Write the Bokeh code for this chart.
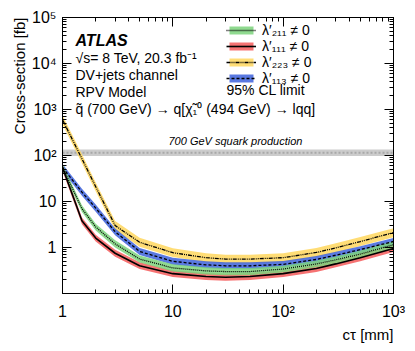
import math
from bokeh.plotting import figure
from bokeh.models import (LogAxis, FixedTicker, Label, Legend, LegendItem,
                          ColumnDataSource, Range1d, Title)
from bokeh.embed import file_html
from bokeh.resources import INLINE

# ---------------- data ----------------
ctau = [1, 1.5, 2, 3, 5, 10, 20, 30, 50, 100, 200, 300, 500, 1000]

# lambda'_211 (green, dotted)
l211 = [55, 7.0, 2.8, 1.2, 0.56, 0.36, 0.31, 0.3, 0.3, 0.34, 0.44, 0.54, 0.72, 1.15]
l211_lo = [46, 5.9, 2.35, 1.0, 0.47, 0.30, 0.26, 0.25, 0.25, 0.285, 0.37, 0.45, 0.6, 0.96]
l211_hi = [65, 8.3, 3.3, 1.43, 0.67, 0.43, 0.37, 0.36, 0.36, 0.4, 0.52, 0.64, 0.86, 1.37]

# lambda'_111 (red, solid)
l111 = [55, 3.8, 1.6, 0.75, 0.4, 0.27, 0.235, 0.225, 0.235, 0.27, 0.35, 0.44, 0.6, 0.95]
l111_lo = [46, 3.2, 1.35, 0.63, 0.34, 0.227, 0.197, 0.19, 0.197, 0.227, 0.294, 0.37, 0.5, 0.8]
l111_hi = [65, 4.5, 1.9, 0.89, 0.48, 0.32, 0.28, 0.27, 0.28, 0.32, 0.42, 0.52, 0.71, 1.13]

# lambda'_223 (yellow, dash-dot-dot)
l223 = [600, 85, 21, 3.0, 1.3, 0.77, 0.6, 0.56, 0.56, 0.6, 0.78, 0.98, 1.35, 2.1]
l223_lo = [480, 68, 16.8, 2.4, 1.04, 0.62, 0.48, 0.45, 0.45, 0.48, 0.62, 0.78, 1.08, 1.68]
l223_hi = [750, 106, 26, 3.75, 1.63, 0.96, 0.75, 0.7, 0.7, 0.75, 0.98, 1.23, 1.69, 2.63]

# lambda'_113 (blue, dashed)
l113 = [55, 16, 7.2, 2.2, 0.82, 0.5, 0.42, 0.4, 0.4, 0.43, 0.55, 0.68, 0.9, 1.35]
l113_lo = [46, 13.4, 6.0, 1.85, 0.69, 0.42, 0.353, 0.336, 0.336, 0.36, 0.46, 0.57, 0.76, 1.13]
l113_hi = [65, 19, 8.6, 2.6, 0.98, 0.6, 0.5, 0.48, 0.48, 0.51, 0.65, 0.81, 1.07, 1.6]

# 700 GeV squark production cross-section
sq_x = [1, 1000]
sq_c = [115, 115]
sq_lo = [98, 98]
sq_hi = [135, 135]

y_major = [1, 10, 100, 1000, 10000, 100000]
y_labels = ["1", "10", "10²", "10³", "10⁴", "10⁵"]
x_major = [1, 10, 100, 1000]
x_labels = ["1", "10", "10²", "10³"]

FONT = "Liberation Sans"

# ---------------- figure ----------------
p = figure(width=407, height=343, x_axis_type="log", y_axis_type="log",
           x_range=Range1d(1, 1000), y_range=Range1d(0.1, 1e5),
           output_backend="svg", toolbar_location=None,
           min_border_left=62, min_border_right=14, min_border_top=17, min_border_bottom=49)
p.xgrid.visible = False
p.ygrid.visible = False
p.outline_line_color = "black"
p.outline_line_width = 1
p.background_fill_color = "white"

xminor = [k * 10 ** e for e in range(0, 3) for k in range(2, 10)]
yminor = [k * 10 ** e for e in range(-1, 5) for k in range(2, 10)]


def style_axis(ax, major, minor, labels, show):
    ax.ticker = FixedTicker(ticks=major, minor_ticks=minor)
    ax.major_tick_in = 9
    ax.major_tick_out = 0
    ax.minor_tick_in = 4
    ax.minor_tick_out = 0
    ax.axis_line_color = "black"
    ax.major_tick_line_color = "black"
    ax.minor_tick_line_color = "black"
    ax.major_label_overrides = {m: l for m, l in zip(major, labels)}
    if show:
        ax.major_label_text_font = FONT
        ax.major_label_text_font_size = "16px"
        ax.major_label_text_color = "black"
    else:
        ax.major_label_text_font_size = "1px"
        ax.major_label_text_color = None
        ax.major_label_standoff = 0


style_axis(p.xaxis[0], x_major, xminor, x_labels, True)
p.xaxis[0].major_label_standoff = 9
style_axis(p.yaxis[0], y_major, yminor, y_labels, True)
p.yaxis[0].major_label_standoff = 6

top_ax = LogAxis()
right_ax = LogAxis()
style_axis(top_ax, x_major, xminor, x_labels, False)
style_axis(right_ax, y_major, yminor, y_labels, False)
p.add_layout(top_ax, "above")
p.add_layout(right_ax, "right")

# axis titles (ROOT style, aligned to the axis end)
p.add_layout(Title(text="cτ [mm]", align="right", text_font=FONT, text_font_size="15px",
                   text_font_style="normal", text_color="black", standoff=2), "below")
p.add_layout(Title(text="Cross-section [fb]", align="right", text_font=FONT,
                   text_font_size="15px", text_font_style="normal", text_color="black",
                   standoff=2), "left")

# ---------------- squark band ----------------
sq = ColumnDataSource(dict(x=sq_x, c=sq_c, lo=sq_lo, hi=sq_hi))
p.varea(x="x", y1="lo", y2="hi", source=sq, fill_color="#cccccc", fill_alpha=1.0)
p.line(x="x", y="c", source=sq, line_color="#a8a8a8", line_width=2, line_dash="2 2")

# ---------------- limit bands ----------------
series = [
    ("λ′₂₁₁ ≠ 0", l211, l211_lo, l211_hi, "#7dd37d", "1 1", 1.3),
    ("λ′₁₁₁ ≠ 0", l111, l111_lo, l111_hi, "#f55b5b", "solid", 1.6),
    ("λ′₂₂₃ ≠ 0", l223, l223_lo, l223_hi, "#ffd75e", "4 1 1 1 1 1", 1.3),
    ("λ′₁₁₃ ≠ 0", l113, l113_lo, l113_hi, "#3d62dc", "3 2", 1.3),
]
draw_order = [2, 3, 1, 0]
rend = {}
for i in draw_order:
    name, c, lo, hi, col, dash, lw = series[i]
    src = ColumnDataSource(dict(x=ctau, c=c, lo=lo, hi=hi))
    b = p.varea(x="x", y1="lo", y2="hi", source=src, fill_color=col, fill_alpha=0.85)
    rend[i] = [b]
for i in draw_order:
    name, c, lo, hi, col, dash, lw = series[i]
    src = ColumnDataSource(dict(x=ctau, c=c))
    l = p.line(x="x", y="c", source=src, line_color="black", line_width=lw, line_dash=dash)
    rend[i].append(l)

legend = Legend(items=[LegendItem(label=s[0], renderers=rend[i]) for i, s in enumerate(series)],
                location=(164, 207), orientation="vertical",
                border_line_color=None, background_fill_alpha=0,
                padding=0, margin=0, spacing=0, glyph_width=30, glyph_height=10,
                label_standoff=6, label_text_font=FONT, label_text_font_size="14px",
                label_text_color="black", label_height=15)
p.add_layout(legend)

# ---------------- texts ----------------
def lab(x, y, t, size="14px", style="normal", align="left", angle=0.0):
    p.add_layout(Label(x=x, y=y, x_units="screen", y_units="screen", text=t,
                       text_font=FONT, text_font_size=size, text_font_style=style,
                       text_align=align, text_baseline="middle", angle=angle,
                       text_color="black"))

lab(13, 253, "ATLAS", size="16px", style="bold italic")
lab(13, 236, "√s= 8 TeV, 20.3 fb⁻¹")
lab(13, 219, "DV+jets channel")
lab(13, 202, "RPV Model")
lab(13, 185, "q̃ (700 GeV) → q[χ̃₁⁰ (494 GeV) → lqq]")
lab(164, 204, "95% CL limit")
lab(106, 153, "700 GeV squark production", size="11px", style="italic")

open("out.html", "w").write(file_html(p, INLINE))
